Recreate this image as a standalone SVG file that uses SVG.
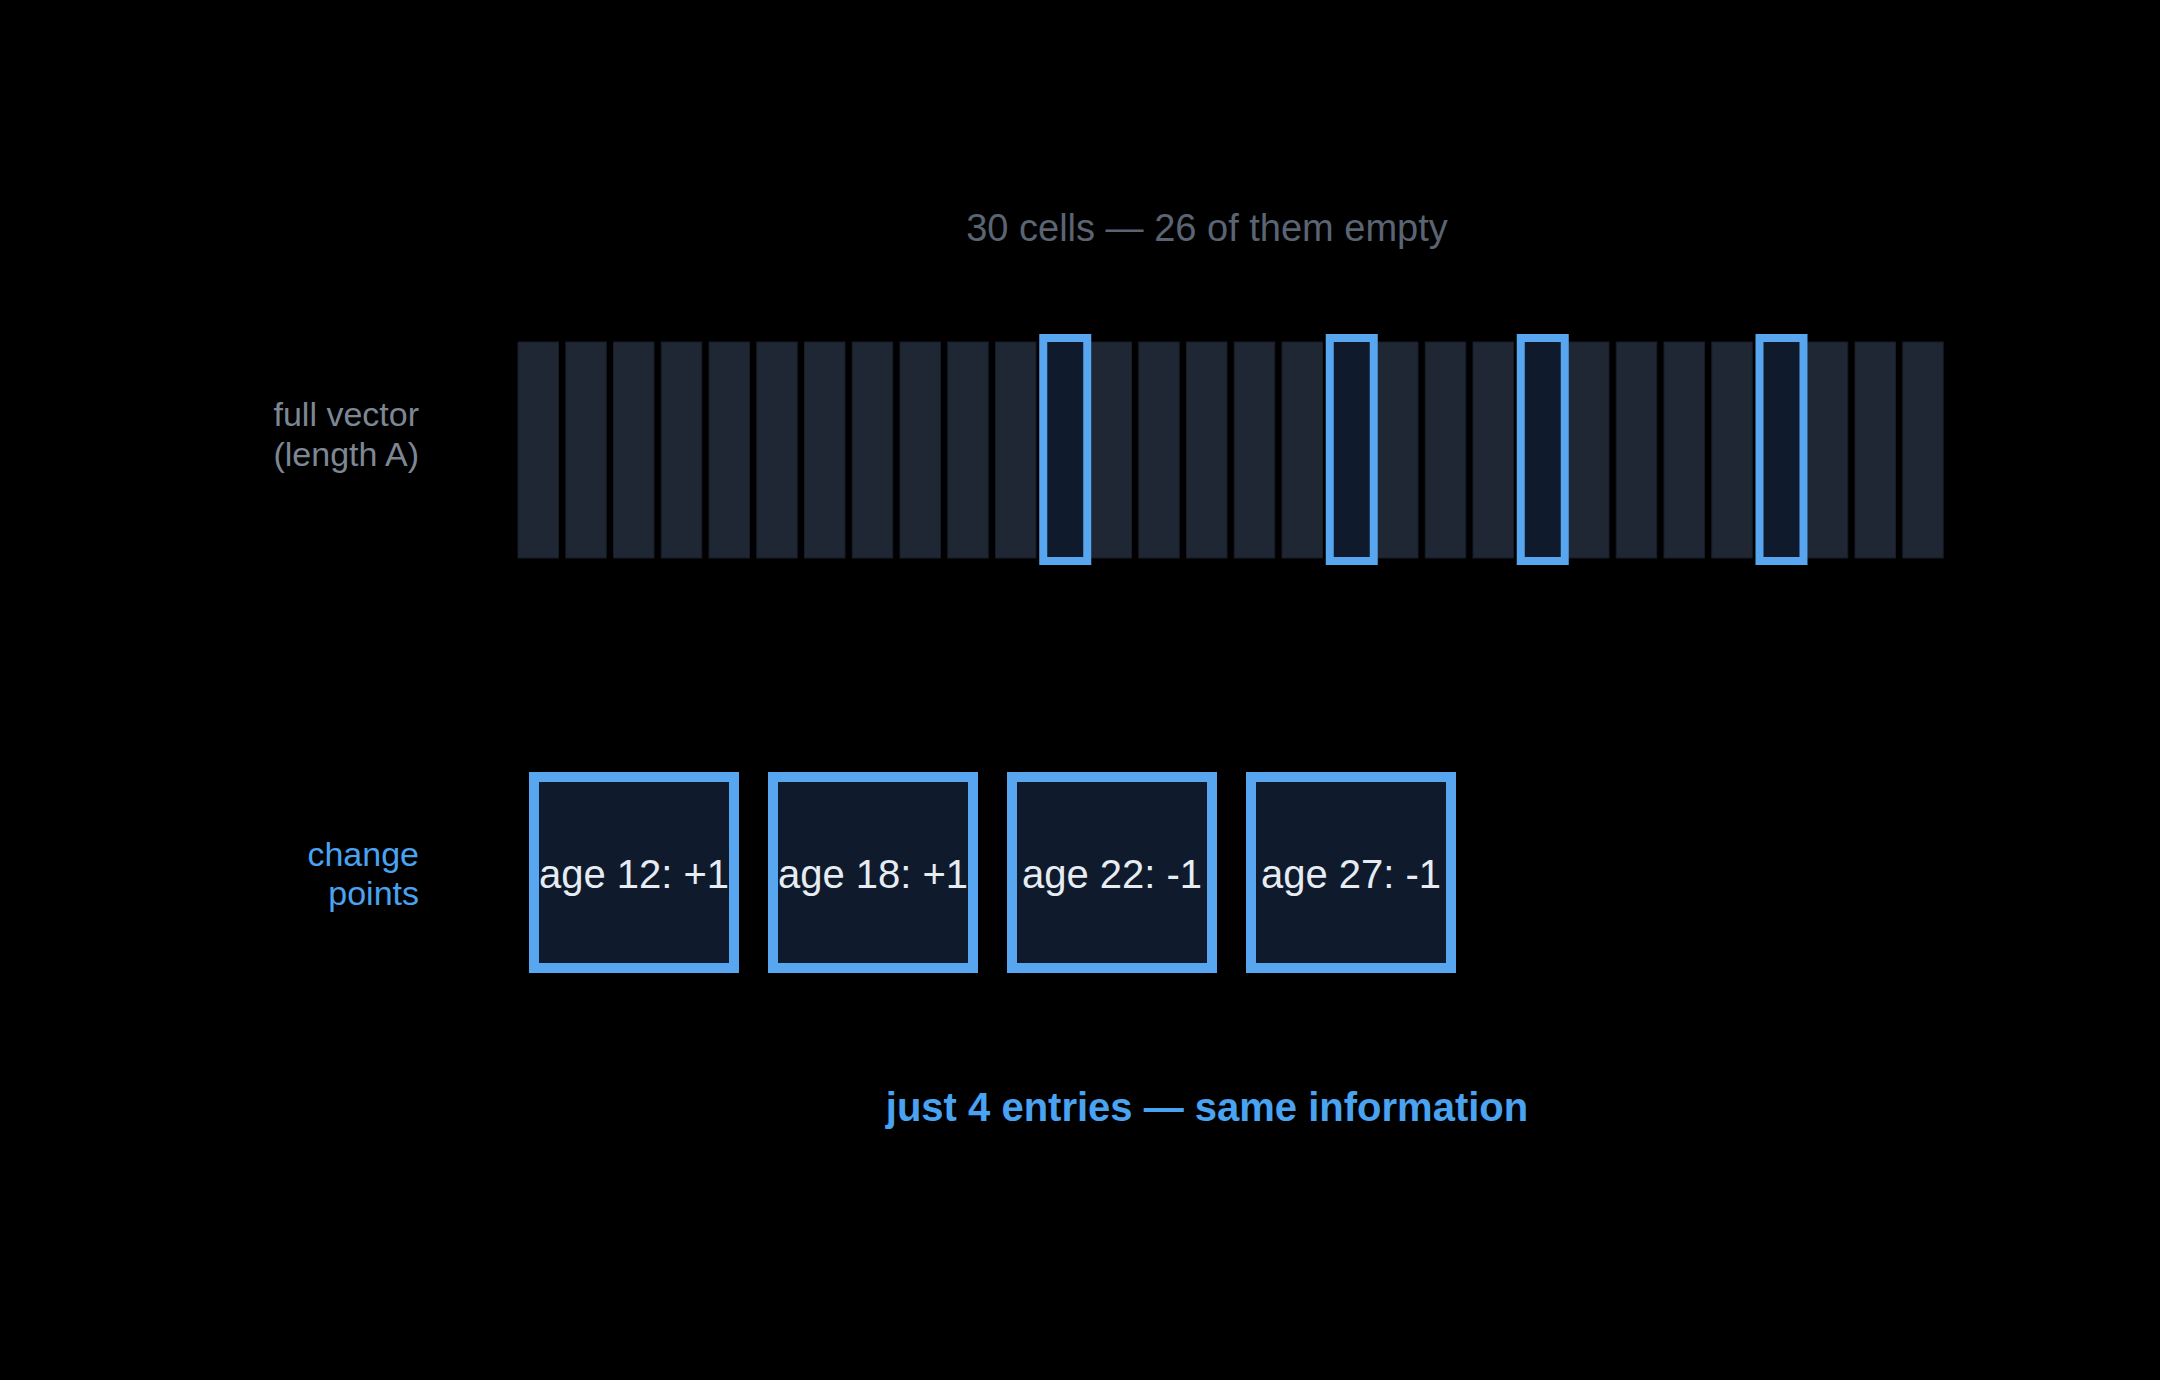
<svg xmlns="http://www.w3.org/2000/svg" width="2160" height="1380" viewBox="0 0 2160 1380">
<style>
text{font-family:"Liberation Sans",Arial,sans-serif}
.c{fill:#1e2733;stroke:#161d26;stroke-width:1}
.h{fill:#0f1b2d;stroke:#58a6f0;stroke-width:8}
.b{fill:#0f1b2d;stroke:#58a6f0;stroke-width:10}
.bt{fill:#e6ecf2;font-size:40px;text-anchor:middle}
</style>
<rect width="2160" height="1380" fill="#000"/>
<text x="1207" y="241" font-size="38" fill="#5b6472" text-anchor="middle">30 cells — 26 of them empty</text>
<g id="label-full" fill="#7d8794" font-size="34" text-anchor="end">
<text x="419" y="426">full vector</text><text x="419" y="466">(length A)</text>
</g>
<g id="vector">
<rect class="c" x="518" y="342" width="40.5" height="216"/>
<rect class="c" x="565.75" y="342" width="40.5" height="216"/>
<rect class="c" x="613.5" y="342" width="40.5" height="216"/>
<rect class="c" x="661.25" y="342" width="40.5" height="216"/>
<rect class="c" x="709" y="342" width="40.5" height="216"/>
<rect class="c" x="756.75" y="342" width="40.5" height="216"/>
<rect class="c" x="804.5" y="342" width="40.5" height="216"/>
<rect class="c" x="852.25" y="342" width="40.5" height="216"/>
<rect class="c" x="900" y="342" width="40.5" height="216"/>
<rect class="c" x="947.75" y="342" width="40.5" height="216"/>
<rect class="c" x="995.5" y="342" width="40.5" height="216"/>
<rect class="c" x="1091" y="342" width="40.5" height="216"/>
<rect class="c" x="1138.75" y="342" width="40.5" height="216"/>
<rect class="c" x="1186.5" y="342" width="40.5" height="216"/>
<rect class="c" x="1234.25" y="342" width="40.5" height="216"/>
<rect class="c" x="1282" y="342" width="40.5" height="216"/>
<rect class="c" x="1377.5" y="342" width="40.5" height="216"/>
<rect class="c" x="1425.25" y="342" width="40.5" height="216"/>
<rect class="c" x="1473" y="342" width="40.5" height="216"/>
<rect class="c" x="1568.5" y="342" width="40.5" height="216"/>
<rect class="c" x="1616.25" y="342" width="40.5" height="216"/>
<rect class="c" x="1664" y="342" width="40.5" height="216"/>
<rect class="c" x="1711.75" y="342" width="40.5" height="216"/>
<rect class="c" x="1807.25" y="342" width="40.5" height="216"/>
<rect class="c" x="1855" y="342" width="40.5" height="216"/>
<rect class="c" x="1902.75" y="342" width="40.5" height="216"/>
<rect class="h" x="1043.25" y="338" width="44" height="223"/>
<rect class="h" x="1329.75" y="338" width="44" height="223"/>
<rect class="h" x="1520.75" y="338" width="44" height="223"/>
<rect class="h" x="1759.5" y="338" width="44" height="223"/>
</g>
<g id="label-change" fill="#4aa3f0" font-size="34" text-anchor="end">
<text x="419" y="866">change</text><text x="419" y="905">points</text>
</g>
<g id="cp1"><rect class="b" x="534" y="777" width="200" height="191"/><text class="bt" x="634" y="888">age 12: +1</text></g>
<g id="cp2"><rect class="b" x="773" y="777" width="200" height="191"/><text class="bt" x="873" y="888">age 18: +1</text></g>
<g id="cp3"><rect class="b" x="1012" y="777" width="200" height="191"/><text class="bt" x="1112" y="888">age 22: -1</text></g>
<g id="cp4"><rect class="b" x="1251" y="777" width="200" height="191"/><text class="bt" x="1351" y="888">age 27: -1</text></g>
<g id="connectors"/>
<text x="1207" y="1121" font-size="40" font-weight="bold" fill="#4aa3f0" text-anchor="middle">just 4 entries — same information</text>
</svg>
